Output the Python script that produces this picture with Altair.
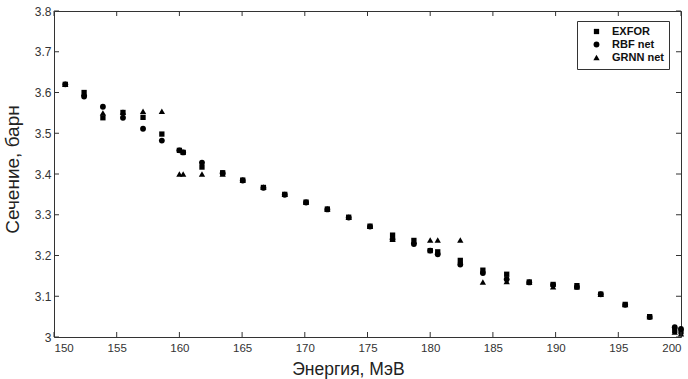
import altair as alt
import pandas as pd

energy = [150.9, 152.4, 153.9, 155.5, 157.1, 158.6, 160.0, 160.3, 161.8, 163.45,
          165.05, 166.7, 168.4, 170.1, 171.8, 173.5, 175.2, 177.0, 178.7, 180.0,
          180.6, 182.4, 184.2, 186.1, 187.9, 189.8, 191.7, 193.6, 195.55, 197.5,
          199.5, 200.0]

exfor = [3.620, 3.600, 3.538, 3.551, 3.539, 3.498, 3.458, 3.453, 3.417, 3.403,
         3.385, 3.367, 3.350, 3.331, 3.314, 3.294, 3.272, 3.250, 3.237, 3.212,
         3.209, 3.188, 3.164, 3.154, 3.135, 3.129, 3.126, 3.105, 3.080, 3.050,
         3.016, 3.013]

rbf = [3.620, 3.590, 3.565, 3.538, 3.511, 3.482, 3.458, 3.453, 3.428, 3.402,
       3.384, 3.366, 3.349, 3.330, 3.313, 3.293, 3.271, 3.240, 3.228, 3.212,
       3.203, 3.178, 3.157, 3.142, 3.134, 3.128, 3.123, 3.105, 3.079, 3.049,
       3.024, 3.020]

grnn = [3.620, 3.598, 3.550, 3.552, 3.554, 3.554, 3.400, 3.400, 3.400, 3.400,
        3.385, 3.368, 3.350, 3.331, 3.314, 3.294, 3.272, 3.240, 3.235, 3.238,
        3.238, 3.238, 3.135, 3.136, 3.135, 3.123, 3.123, 3.105, 3.080, 3.050,
        3.012, 3.008]

series_names = ["EXFOR", "RBF net", "GRNN net"]
series_shapes = ["square", "circle", "triangle-up"]
series_sizes = [28, 40, 44]

x_ticks = [150, 155, 160, 165, 170, 175, 180, 185, 190, 195, 200]
y_ticks = [3.0, 3.1, 3.2, 3.3, 3.4, 3.5, 3.6, 3.7, 3.8]

rows = []
for name, vals in zip(series_names, [exfor, rbf, grnn]):
    for e, v in zip(energy, vals):
        rows.append({"E": e, "sigma": v, "series": name})
df = pd.DataFrame(rows)

W, H = 627, 326
FONT = "Liberation Sans"
XT = "Энергия, МэВ"
YT = "Сечение, барн"

xscale = alt.Scale(domain=[150, 200], nice=False, zero=False)
yscale = alt.Scale(domain=[3.0, 3.8], nice=False, zero=False)

xaxis = alt.Axis(title=XT, values=x_ticks, ticks=False, domain=False,
                 grid=False, labelFontSize=11.5, labelColor="#333", labelPadding=5,
                 labelFont=FONT, titleFont=FONT, titleFontSize=17.5,
                 titleFontWeight="normal", titleColor="#222",
                 titleX=294, titleY=32, titleBaseline="middle", titleAlign="center")
yaxis = alt.Axis(title=YT, values=y_ticks, format=".1~f", ticks=False,
                 domain=False, grid=False, labelFontSize=12, labelColor="#333",
                 labelPadding=3, labelFont=FONT, titleFont=FONT, titleFontSize=19,
                 titleFontWeight="normal", titleColor="#222",
                 titleX=-42, titleY=158, titleBaseline="middle", titleAlign="center",
                 titleAngle=270)

points = alt.Chart(df).mark_point(filled=True, opacity=1, color="black").encode(
    x=alt.X("E:Q", scale=xscale, axis=xaxis),
    y=alt.Y("sigma:Q", scale=yscale, axis=yaxis),
    shape=alt.Shape("series:N", scale=alt.Scale(domain=series_names, range=series_shapes),
                    legend=alt.Legend(title=None, orient="none", legendX=523, legendY=10,
                                      strokeColor="#333", fillColor="white", padding=5,
                                      symbolOffset=9, labelFont=FONT, labelFontSize=11,
                                      labelFontWeight="bold", labelColor="#111",
                                      symbolFillColor="black", symbolStrokeColor="black",
                                      rowPadding=0, labelOffset=10)),
    size=alt.Size("series:N", scale=alt.Scale(domain=series_names, range=series_sizes)),
)

xt = pd.DataFrame({"t": x_ticks})
yt = pd.DataFrame({"t": y_ticks})

bottom_ticks = alt.Chart(xt).mark_rule(color="#333", strokeWidth=1).encode(
    x=alt.X("t:Q", scale=xscale, axis=xaxis), y=alt.value(H), y2=alt.value(H - 5))
top_ticks = alt.Chart(xt).mark_rule(color="#333", strokeWidth=1).encode(
    x=alt.X("t:Q", scale=xscale, axis=xaxis), y=alt.value(0), y2=alt.value(5))
left_ticks = alt.Chart(yt).mark_rule(color="#333", strokeWidth=1).encode(
    y=alt.Y("t:Q", scale=yscale, axis=yaxis), x=alt.value(0), x2=alt.value(5))
right_ticks = alt.Chart(yt).mark_rule(color="#333", strokeWidth=1).encode(
    y=alt.Y("t:Q", scale=yscale, axis=yaxis), x=alt.value(W), x2=alt.value(W - 5))

chart = alt.layer(points, bottom_ticks, top_ticks, left_ticks, right_ticks).properties(
    width=W, height=H,
    autosize=alt.AutoSizeParams(type="none"),
    padding={"left": 54, "top": 11, "right": 7, "bottom": 42},
    background="white",
).configure_view(stroke="#333", strokeWidth=1)

chart.save("out.html", embed_options={"renderer": "svg", "actions": False})
